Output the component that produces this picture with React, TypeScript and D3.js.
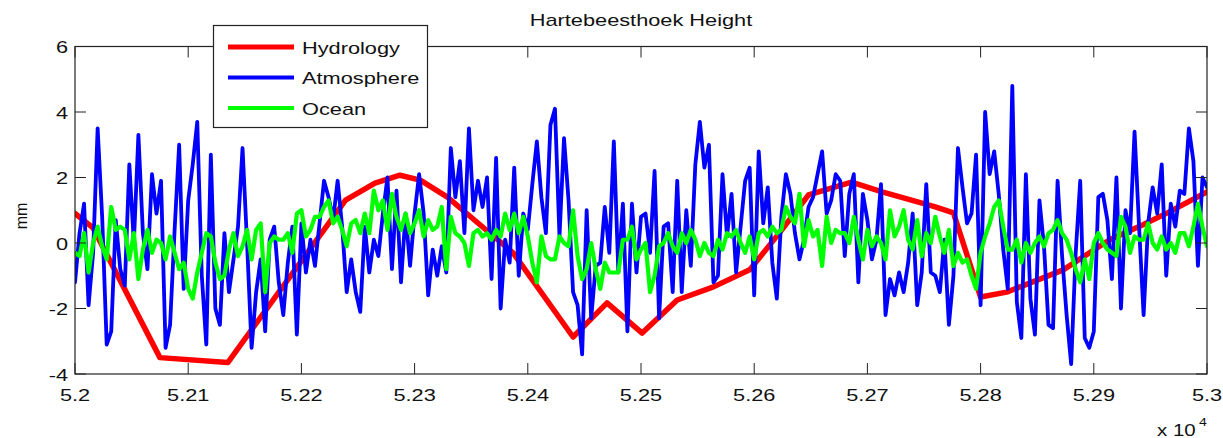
import React from "react";
import * as d3 from "d3";

// MJD axis, values in mm
const START_MJD = 52000;
const STEP_DAYS = 4;

const hydroDays = [
  52000, 52016, 52075, 52135, 52239, 52265, 52287, 52305, 52329, 52358, 52387, 52440, 52470, 52501, 52532,
  52564, 52596, 52623, 52648, 52686, 52713, 52760, 52776, 52800, 52823, 52873, 52914, 52943, 52965, 53000,
];
const hydroValues = [
  0.9, 0.46, -3.5, -3.65, 1.31, 1.83, 2.07, 1.92, 1.4, 0.55, -0.3, -2.87, -1.83, -2.75, -1.74,
  -1.34, -0.82, 0.34, 1.47, 1.86, 1.56, 1.1, 0.92, -1.65, -1.5, -0.82, 0.1, 0.55, 0.92, 1.56,
];

const atmosphere = [
  -1.2, 0.3, 1.2, -1.9, -0.3, 3.5, 0.8, -3.1, -2.7, 0.7,
  -0.8, -1.3, 2.4, 0.0, 3.3, 0.3, -0.8, 2.1, 0.9, 1.9,
  -3.2, -2.5, 0.4, 3.0, -1.4, 1.3, 2.4, 3.7, -1.0, -3.1,
  2.7, -2.0, -2.5, 0.3, -1.5, -0.5, 0.5, 2.9, 0.0, -3.2,
  -1.5, -0.5, -2.7, 0.1, 0.5, -1.2, -2.2, -0.6, 0.5, -2.8,
  0.6, -0.9, 0.1, -0.7, 0.6, 1.9, 1.4, 0.7, 1.9, 0.5,
  -1.5, -0.5, -1.5, -2.1, 0.5, -0.9, 0.1, -0.4, 0.9, 2.0,
  -0.8, 1.6, -1.2, 0.9, -0.7, 0.9, 2.1, 0.9, -1.6, -0.2,
  -1.0, -0.1, -0.9, 2.9, 1.4, 2.5, 0.3, 3.5, 1.0, 1.9,
  1.1, 2.0, -1.1, 2.6, -2.0, 0.1, -0.6, 2.3, -1.0, 0.9,
  0.4, 1.8, 3.1, 1.4, 0.3, 3.6, 4.1, 0.2, 3.2, 1.3,
  -1.5, -1.9, -3.4, 1.0, -2.3, -0.7, -0.6, 1.1, -0.3, 3.1,
  -0.9, 1.2, -2.7, 1.2, -0.9, 0.8, 0.9, -0.3, 2.2, -2.3,
  0.5, 0.6, -1.5, 1.9, -1.5, 1.0, -0.7, 2.4, 3.7, 2.3,
  3.0, -1.2, -1.0, 2.1, 0.2, 1.5, -0.9, 0.5, 1.9, 2.3,
  -1.6, 2.8, 0.6, 1.7, -0.6, -1.7, 0.8, 2.1, 1.5, 0.3,
  -0.5, 0.1, 1.1, 1.4, 2.1, 2.8, 0.9, 1.3, 2.1, 1.9,
  -0.4, 1.5, 2.1, -1.2, 1.5, 0.7, -0.5, 0.1, 1.8, -2.2,
  -1.1, -1.6, -0.9, -1.5, -0.6, 0.9, -1.9, -0.9, 1.8, -0.9,
  -1.0, -1.5, 0.1, -2.5, -1.0, 2.9, 1.7, 0.6, 0.9, 2.7,
  -1.9, 4.0, 2.1, 2.8, 1.5, -0.2, -1.4, 4.8, -1.8, -2.9,
  2.1, -1.7, -2.8, 1.3, -0.1, -2.5, -2.6, 1.9, -0.4, -2.2,
  -3.7, -0.3, 1.9, -2.9, -3.2, -2.7, 1.4, 1.5, 0.7, -1.1,
  2.0, -2.0, 1.0, 0.3, 3.4, 0.5, -2.2, 0.6, 1.7, 0.9,
  2.4, -1.0, 1.2, 0.5, 1.6, 1.5, 3.5, 2.5, -0.7, 2.0,
  1.7,
];

const ocean = [
  -0.3, -0.4, 0.3, -0.9, 0.0, 0.5, -0.1, -0.5, 1.1, 0.4,
  0.5, 0.4, -0.5, 0.3, -1.1, -0.2, 0.4, -0.3, 0.1, 0.0,
  -0.5, 0.2, -0.3, -0.8, -0.6, -1.4, -1.7, -0.9, -0.3, 0.3,
  0.2, -0.6, -1.1, -1.0, -0.2, 0.3, -0.4, -0.1, 0.4, -0.5,
  0.4, 0.6, -1.5, 0.0, 0.2, 0.1, 0.1, 0.3, -0.3, 0.9,
  1.0, 0.2, 0.4, 0.8, 0.8, 1.1, 1.3, 0.6, 0.8, 0.4,
  -0.1, 0.6, 0.7, 0.3, 0.9, 0.3, 1.6, 1.0, 1.3, 0.4,
  1.5, 0.8, 0.4, 0.9, 0.3, 0.6, 1.0, 0.2, 0.7, 0.4,
  0.5, 1.1, -0.8, 0.8, 0.3, 0.2, 0.0, -0.7, 0.3, 0.4,
  0.2, 0.3, 0.1, 0.4, 0.2, 0.9, 0.4, 0.9, 0.3, 0.8,
  0.2, -0.6, -1.2, 0.2, -0.4, -0.5, -0.5, 0.2, 0.0, -0.1,
  1.0, -0.4, -1.1, -0.8, 0.0, -0.8, -1.4, -0.6, -0.9, -0.9,
  -0.9, 0.1, 0.1, 0.5, -0.5, -0.2, 0.0, -1.5, -1.0, -0.1,
  0.0, 0.3, -0.1, -0.3, 0.3, 0.0, 0.4, 0.1, -0.4, 0.0,
  -0.3, -0.4, 0.1, -0.2, 0.3, 0.2, 0.4, 0.0, -0.3, 0.2,
  -0.5, 0.3, 0.4, 0.2, 0.5, 0.3, 0.4, 1.1, 0.8, 0.6,
  1.5, -0.1, 0.7, 0.2, 0.4, -0.7, 0.8, 0.0, 0.4, 0.3,
  0.3, 0.0, 0.8, 0.1, -0.5, 0.4, -0.1, 0.2, 0.0, -0.5,
  1.0, 0.2, 0.5, 1.0, 0.1, -0.2, 0.7, -0.4, 0.3, 0.0,
  0.8, 0.2, -0.3, 0.4, -0.7, -0.3, -0.6, -0.5, -1.0, -1.4,
  -0.3, 0.2, 0.6, 1.1, 1.3, 0.5, -0.2, -0.2, 0.1, -0.6,
  0.0, -0.3, 0.0, 0.2, -0.1, 0.3, 0.4, 0.7, 0.3, 0.1,
  -0.3, -0.8, -1.2, -0.5, -1.1, 0.0, 0.3, 0.0, -0.2, -0.3,
  -0.4, 0.8, 0.5, -0.3, 0.2, 0.1, 0.1, 0.6, 0.0, -0.2,
  0.2, -0.2, 0.0, -0.3, 0.3, 0.3, -0.1, 0.5, 1.2, 0.5,
  -0.1,
];

const xTicks = [52000, 52100, 52200, 52300, 52400, 52500, 52600, 52700, 52800, 52900, 53000];
const xTickLabels = ["5.2", "5.21", "5.22", "5.23", "5.24", "5.25", "5.26", "5.27", "5.28", "5.29", "5.3"];
const yTicks = [-4, -2, 0, 2, 4, 6];

const legendItems = [
  { label: "Hydrology", color: "#ff0000", width: 5 },
  { label: "Atmosphere", color: "#0000ff", width: 4 },
  { label: "Ocean", color: "#00ff00", width: 4 },
];

const W = 1223;
const H = 438;
const left = 75;
const right = 1207;
const top = 46.5;
const bottom = 374;
const SX = 1.28;
const FONT = "'Liberation Sans', Arial, Helvetica, sans-serif";
const TICK = 11;

const Label = ({ x, y, anchor = "middle", size = 17, children }: any) => (
  <g transform={`translate(${x},${y}) scale(${SX},1)`}>
    <text textAnchor={anchor} fontSize={size} fontFamily={FONT} fill="#111">
      {children}
    </text>
  </g>
);

export default function App() {
  const x = d3.scaleLinear().domain([52000, 53000]).range([left, right]);
  const y = d3.scaleLinear().domain([-4, 6]).range([bottom, top]);

  const line = d3
    .line<[number, number]>()
    .x((d) => x(d[0]))
    .y((d) => y(d[1]));

  const hydro = hydroDays.map((d, i) => [d, hydroValues[i]] as [number, number]);
  const atm = atmosphere.map((v, i) => [START_MJD + i * STEP_DAYS, v] as [number, number]);
  const oce = ocean.map((v, i) => [START_MJD + i * STEP_DAYS, v] as [number, number]);

  return (
    <svg
      width={W}
      height={H}
      style={{ position: "absolute", left: 0, top: 0, background: "#fff" }}
    >
      <defs>
        <clipPath id="plot">
          <rect x={left} y={top} width={right - left} height={bottom - top} />
        </clipPath>
      </defs>
      <rect x={0} y={0} width={W} height={H} fill="#fff" />

      <g clipPath="url(#plot)" fill="none" strokeLinejoin="round" strokeLinecap="round">
        <path d={line(hydro) || ""} stroke="#ff0000" strokeWidth={5.5} />
        <path d={line(atm) || ""} stroke="#0000ff" strokeWidth={3.8} />
        <path d={line(oce) || ""} stroke="#00ff00" strokeWidth={4.2} />
      </g>

      {/* axes box */}
      <rect x={left} y={top} width={right - left} height={bottom - top} fill="none" stroke="#222" strokeWidth={1.2} />
      {xTicks.map((t) => (
        <g key={t} stroke="#222" strokeWidth={1}>
          <line x1={x(t)} x2={x(t)} y1={bottom} y2={bottom - TICK} />
          <line x1={x(t)} x2={x(t)} y1={top} y2={top + TICK} />
        </g>
      ))}
      {yTicks.map((t) => (
        <g key={t} stroke="#222" strokeWidth={1}>
          <line x1={left} x2={left + TICK} y1={y(t)} y2={y(t)} />
          <line x1={right} x2={right - TICK} y1={y(t)} y2={y(t)} />
        </g>
      ))}

      {xTicks.map((t, i) => (
        <Label key={t} x={x(t)} y={401}>
          {xTickLabels[i]}
        </Label>
      ))}
      {yTicks.map((t) => (
        <Label key={t} x={68} y={y(t) + 6.5} anchor="end">
          {t}
        </Label>
      ))}

      <Label x={(left + right) / 2} y={26}>
        Hartebeesthoek Height
      </Label>

      <text
        transform="translate(27,216) rotate(-90)"
        textAnchor="middle"
        fontSize={16}
        fontFamily={FONT}
        fill="#111"
      >
        mm
      </text>

      <Label x={1157} y={436} anchor="start" size={16}>
        x 10
      </Label>
      <Label x={1199} y={426} anchor="start" size={11}>
        4
      </Label>

      {/* legend */}
      <rect x={213.5} y={25.5} width={214} height={102} fill="#fff" stroke="#222" strokeWidth={1.2} />
      {legendItems.map((item, i) => {
        const cy = 47 + i * 30.5;
        return (
          <g key={item.label}>
            <line x1={228} x2={294} y1={cy} y2={cy} stroke={item.color} strokeWidth={item.width} />
            <Label x={302} y={cy + 6.5} anchor="start">
              {item.label}
            </Label>
          </g>
        );
      })}
    </svg>
  );
}
